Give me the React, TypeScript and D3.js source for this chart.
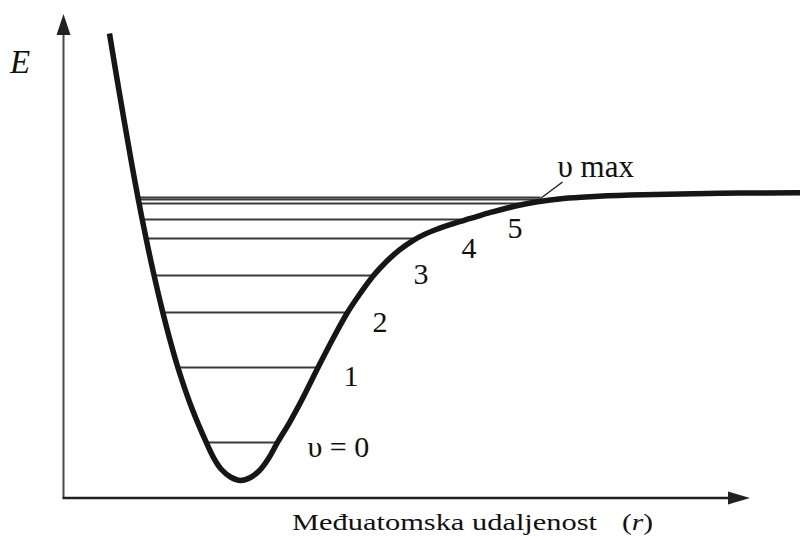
import React from "react";
import * as d3 from "d3";

// Potential energy curve (r, E) in arbitrary units
const curveR = [0.657, 0.761, 0.866, 0.966, 1.066, 1.18, 1.294, 1.419, 1.523, 1.634, 1.819, 2.04, 2.143, 2.257, 2.386, 2.529, 2.671, 2.8, 2.929, 3.057, 3.237, 3.4, 3.636, 3.843, 4.057, 4.243, 4.429, 4.614, 4.8, 4.986, 5.171, 5.357, 5.543, 5.814, 6.1, 6.457, 6.771, 7.143, 7.529, 8.1, 8.814, 9.671, 10.529];
const curveE = [9.667, 8.75, 7.854, 7.021, 6.229, 5.396, 4.625, 3.854, 3.271, 2.708, 1.917, 1.146, 0.833, 0.583, 0.427, 0.354, 0.417, 0.563, 0.813, 1.146, 1.583, 2.021, 2.708, 3.292, 3.854, 4.26, 4.625, 4.917, 5.158, 5.348, 5.492, 5.602, 5.696, 5.813, 5.938, 6.073, 6.16, 6.229, 6.267, 6.3, 6.325, 6.342, 6.35];

// Vibrational levels
const levelE = [1.146, 2.708, 3.854, 4.625, 5.396, 5.792, 6.125, 6.208, 6.25];
const levelLeftR = [2.04, 1.634, 1.419, 1.294, 1.18, 1.126, 1.083, 1.069, 1.063];
const levelRightR = [3.057, 3.636, 4.057, 4.429, 5.029, 5.757, 6.643, 6.814, 6.814];

// Level labels
const labelText = ["υ = 0", "1", "2", "3", "4", "5"];
const labelR = [3.486, 4.0, 4.414, 5.0, 5.686, 6.343];
const labelE = [0.854, 2.313, 3.438, 4.438, 5.0, 5.396];

const vmaxText = "υ max";
const vmaxLeaderR = [6.814, 7.129];
const vmaxLeaderE = [6.229, 6.573];
const vmaxLabelR = 7.057;
const vmaxLabelE = 6.667;

const axisLabelX = "Međuatomska udaljenost";
const axisLabelY = "E";

const W = 800;
const H = 539;

export default function App() {
  const x = d3.scaleLinear().domain([0, 10]).range([63.5, 763.5]);
  const y = d3.scaleLinear().domain([0, 10]).range([497.5, 17.5]);

  const pts: [number, number][] = curveR.map((r, i) => [r, curveE[i]]);
  const line = d3
    .line<[number, number]>()
    .x((d) => x(d[0]))
    .y((d) => y(d[1]))
    .curve(d3.curveCatmullRom.alpha(0.5));

  const serif = "'Liberation Serif', 'Times New Roman', 'DejaVu Serif', serif";
  const x0 = x(0);
  const y0 = y(0);

  return (
    <svg
      width={W}
      height={H}
      style={{ position: "absolute", left: 0, top: 0, background: "#fff" }}
    >
      {/* axes */}
      <line x1={x0} y1={y0 + 0.5} x2={x0} y2={34} stroke="#4a4a4a" strokeWidth={2} />
      <polygon points={`${x0},14 ${x0 - 7},35 ${x0 + 7},35`} fill="#222" />
      <line x1={x0 - 1} y1={y0 + 0.5} x2={730} y2={y0 + 0.5} stroke="#222" strokeWidth={2.5} />
      <polygon points={`750,${y0 + 0.5} 728,${y0 - 6} 728,${y0 + 7}`} fill="#222" />

      {/* vibrational levels */}
      {levelE.map((e, i) => (
        <line
          key={i}
          x1={x(levelLeftR[i])}
          x2={x(levelRightR[i])}
          y1={y(e)}
          y2={y(e)}
          stroke="#3a3a3a"
          strokeWidth={i === 0 ? 1.8 : 2}
        />
      ))}

      {/* potential curve */}
      <path d={line(pts) || ""} fill="none" stroke="#161616" strokeWidth={5.5} strokeLinejoin="round" />

      {/* v max leader */}
      <line
        x1={x(vmaxLeaderR[0])}
        y1={y(vmaxLeaderE[0])}
        x2={x(vmaxLeaderR[1])}
        y2={y(vmaxLeaderE[1])}
        stroke="#222"
        strokeWidth={1.5}
      />
      <text x={x(vmaxLabelR)} y={y(vmaxLabelE)} fontFamily={serif} fontSize={31} fill="#111">
        {vmaxText}
      </text>

      {labelText.map((t, i) => (
        <text key={i} x={x(labelR[i])} y={y(labelE[i])} fontFamily={serif} fontSize={30} fill="#111">
          {t}
        </text>
      ))}

      {/* axis labels */}
      <text x={10} y={73} fontFamily={serif} fontStyle="italic" fontSize={33} fill="#111">
        {axisLabelY}
      </text>
      <text
        x={292}
        y={530}
        fontFamily={serif}
        fontSize={24}
        fill="#111"
        textLength={305}
        lengthAdjust="spacingAndGlyphs"
      >
        {axisLabelX}
      </text>
      <text x={622} y={530} fontFamily={serif} fontSize={24} fill="#111" textLength={31} lengthAdjust="spacingAndGlyphs">
        (<tspan fontStyle="italic">r</tspan>)
      </text>
    </svg>
  );
}
